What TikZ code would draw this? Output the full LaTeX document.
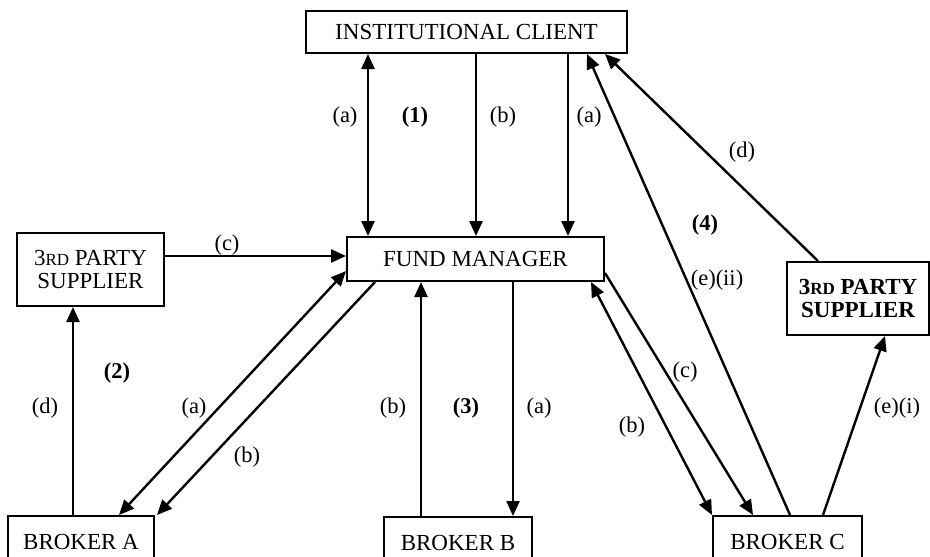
\documentclass[tikz,border=0pt]{standalone}
\usepackage{fontspec}
\setmainfont{Liberation Serif}
\usetikzlibrary{arrows.meta}
\newcommand{\smc}[1]{{\fontsize{17}{17}\selectfont #1}}
\tikzset{
  box/.style={draw, line width=2pt, rectangle, inner sep=0pt, align=center,
    font=\fontsize{23}{23}\selectfont},
  lbl/.style={inner sep=0pt, font=\fontsize{22.5}{22.5}\selectfont},
  blbl/.style={inner sep=0pt, font=\fontsize{22.5}{22.5}\selectfont\bfseries},
  conn/.style={line width=2.4pt, -{Triangle[length=15pt,width=13pt]}},
  dconn/.style={line width=2.4pt, {Triangle[length=15pt,width=13pt]}-{Triangle[length=15pt,width=13pt]}},
}
\begin{document}
\begin{tikzpicture}[x=1pt,y=-1pt]
\useasboundingbox (0,0) rectangle (930,557);
\clip (0,0) rectangle (930,557);
% boxes
\node[box, minimum width=321pt, minimum height=42pt] (IC) at (466.5,32) {INSTITUTIONAL CLIENT};
\node[box, minimum width=257pt, minimum height=44pt] (FM) at (475.5,259) {FUND MANAGER};
\node[box, minimum width=147pt, minimum height=73pt] (LS) at (90.5,269.5) {3\smc{RD} PARTY\\SUPPLIER};
\node[box, minimum width=142pt, minimum height=73pt, font=\fontsize{23}{23}\selectfont\bfseries] (RS) at (858,298.5) {3\smc{RD} PARTY\\SUPPLIER};
\node[box, minimum width=146pt, minimum height=52pt] (BA) at (81,542) {BROKER A};
\node[box, minimum width=148pt, minimum height=52pt] (BB) at (458,543) {BROKER B};
\node[box, minimum width=149pt, minimum height=52pt] (BC) at (787.5,542) {BROKER C};
% connectors
\draw[dconn] ([xshift=-98.5pt]IC.south) -- ([xshift=-107.5pt]FM.north);
\draw[conn] ([xshift=9.5pt]IC.south) -- ([xshift=0.5pt]FM.north);
\draw[conn] ([xshift=101.5pt]IC.south) -- ([xshift=92.5pt]FM.north);
\draw[conn] ([yshift=13.5pt]LS.east) -- ([yshift=3pt]FM.west);
\draw[dconn] ([xshift=38pt]BA.north) -- ([yshift=-12pt]FM.west);
\draw[conn] ([xshift=-100.5pt]FM.south) -- ([xshift=2pt]BA.north east);
\draw[conn] ([xshift=-37pt]BB.north) -- ([xshift=-54.5pt]FM.south);
\draw[conn] ([xshift=37.5pt]FM.south) -- ([xshift=55pt]BB.north);
\draw[dconn] ([xshift=115.5pt]FM.south) -- (BC.north west);
\draw[conn] ([yshift=-14pt]FM.east) -- ([xshift=-34.5pt]BC.north);
\draw[conn] ([xshift=2.5pt]BC.north) -- ([xshift=120.5pt]IC.south);
\draw[conn] ([xshift=-40pt]RS.north) -- ([xshift=138.5pt]IC.south);
\draw[conn] ([xshift=35.5pt]BC.north) -- ([xshift=27pt]RS.south);
\draw[conn] ([xshift=-8pt]BA.north) -- ([xshift=-17.5pt]LS.south);
% labels
\node[lbl] (l1) at (345,117) {(a)};
\node[blbl] (l2) at (415,117) {(1)};
\node[lbl] (l3) at (503,117) {(b)};
\node[lbl] (l4) at (589,117) {(a)};
\node[lbl] (l5) at (227,245) {(c)};
\node[blbl] (l6) at (117,373) {(2)};
\node[lbl] (l7) at (45,408) {(d)};
\node[lbl] (l8) at (194,408) {(a)};
\node[lbl] (l9) at (247,457) {(b)};
\node[lbl] (l10) at (393,408) {(b)};
\node[blbl] (l11) at (466,408) {(3)};
\node[lbl] (l12) at (539,408) {(a)};
\node[lbl] (l13) at (742,152) {(d)};
\node[blbl] (l14) at (705,225) {(4)};
\node[lbl] (l15) at (717,280) {(e)(ii)};
\node[lbl] (l16) at (685,372) {(c)};
\node[lbl] (l17) at (632,427) {(b)};
\node[lbl] (l18) at (897,408) {(e)(i)};
\end{tikzpicture}
\end{document}
